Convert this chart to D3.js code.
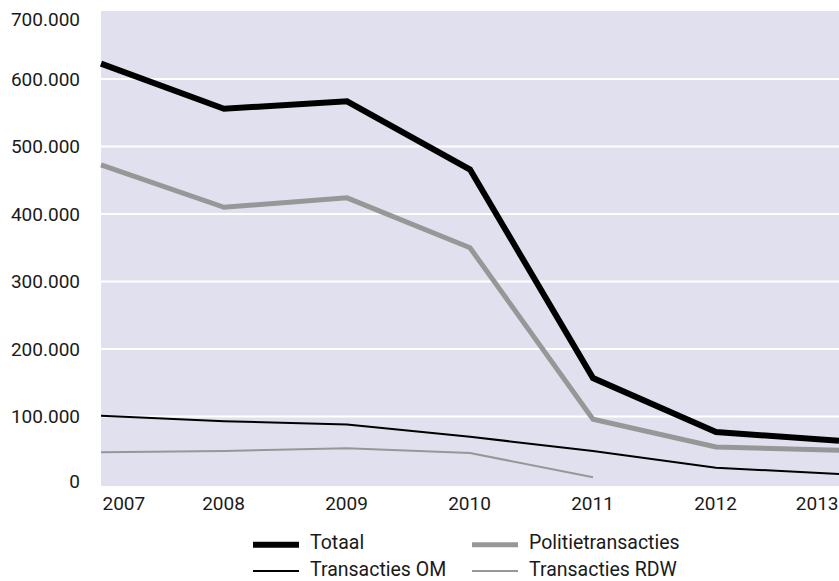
<!DOCTYPE html>
<html>
<head>
<meta charset="utf-8">
<script src="https://cdn.jsdelivr.net/npm/d3@7"></script>
<style>
  body { margin: 0; background: #fff; }
  svg text { font-family: Roboto, "Liberation Sans", sans-serif; fill: #1a1a1a; }
</style>
</head>
<body>
<svg id="chart" width="839" height="581"></svg>
<script>
const years = [2007, 2008, 2009, 2010, 2011, 2012, 2013];
const totaal = [623000, 556000, 567000, 466000, 157000, 77000, 64000];
const politie = [473000, 410000, 424000, 350000, 96000, 55000, 50000];
const om = [101000, 93000, 88000, 70000, 49000, 24000, 15000];
const rdw = [47000, 49000, 53000, 46000, 10000];
const yTicks = [0, 100000, 200000, 300000, 400000, 500000, 600000, 700000];

const series = [
  { name: "Totaal", values: totaal, color: "#000", width: 6 },
  { name: "Politietransacties", values: politie, color: "#979797", width: 5 },
  { name: "Transacties OM", values: om, color: "#000", width: 2 },
  { name: "Transacties RDW", values: rdw, color: "#979797", width: 2 }
];

const svg = d3.select("#chart");
const plotLeft = 101, plotRight = 839, plotTop = 11.6, plotBottom = 484;

const x = d3.scaleLinear().domain([2007, 2013]).range([plotLeft, plotRight]);
const y = d3.scaleLinear().domain([0, 700000]).range([plotBottom, plotTop]);

svg.append("rect")
  .attr("x", plotLeft).attr("y", 11)
  .attr("width", plotRight - plotLeft).attr("height", 486 - 11)
  .attr("fill", "#e1e0ee");

// gridlines
svg.append("g")
  .selectAll("line")
  .data(yTicks.filter(d => d > 0 && d < 700000))
  .join("line")
  .attr("x1", plotLeft).attr("x2", plotRight)
  .attr("y1", d => y(d)).attr("y2", d => y(d))
  .attr("stroke", "#fff")
  .attr("stroke-width", 2);

const fmt = d => d3.format(",")(d).replace(/,/g, ".");

const yAxis = svg.append("g")
  .attr("transform", `translate(${80},0)`)
  .call(d3.axisLeft(y).tickValues(yTicks).tickFormat(fmt).tickSize(0).tickPadding(0));
yAxis.select(".domain").remove();
yAxis.selectAll("text")
  .attr("font-size", 19)
  .attr("dy", "0.32em")
  .attr("y", d => d === 700000 ? 8 : (d === 0 ? -3 : 0));

const xAxis = svg.append("g")
  .attr("transform", `translate(0,${496})`)
  .call(d3.axisBottom(x).tickValues(years).tickFormat(d3.format("d")).tickSize(0).tickPadding(0));
xAxis.select(".domain").remove();
xAxis.selectAll("text")
  .attr("font-size", 19)
  .attr("dy", "0.71em")
  .attr("text-anchor", d => d === 2007 ? "start" : (d === 2013 ? "end" : "middle"))
  .attr("dx", d => d === 2007 ? 1 : -1);

const line = d3.line()
  .x((d, i) => x(years[i]))
  .y(d => y(d));

svg.append("g")
  .selectAll("path")
  .data(series.slice().reverse())
  .join("path")
  .attr("d", d => line(d.values))
  .attr("fill", "none")
  .attr("stroke", d => d.color)
  .attr("stroke-width", d => d.width)
  .attr("stroke-linejoin", "miter");

// legend
const legendPos = [
  { x: 253, y: 544.7, base: 549 },
  { x: 472, y: 544.7, base: 549 },
  { x: 253, y: 571, base: 576 },
  { x: 472, y: 571, base: 576 }
];
const legend = svg.append("g")
  .selectAll("g")
  .data(series)
  .join("g")
  .attr("transform", (d, i) => `translate(${legendPos[i].x},0)`);

legend.append("line")
  .attr("x1", 0).attr("x2", 46)
  .attr("y1", (d, i) => legendPos[i].y).attr("y2", (d, i) => legendPos[i].y)
  .attr("stroke", d => d.color)
  .attr("stroke-width", d => d.width);

legend.append("text")
  .attr("x", 57)
  .attr("y", (d, i) => legendPos[i].base)
  .attr("font-size", 19.5)
  .text(d => d.name);
</script>
</body>
</html>
